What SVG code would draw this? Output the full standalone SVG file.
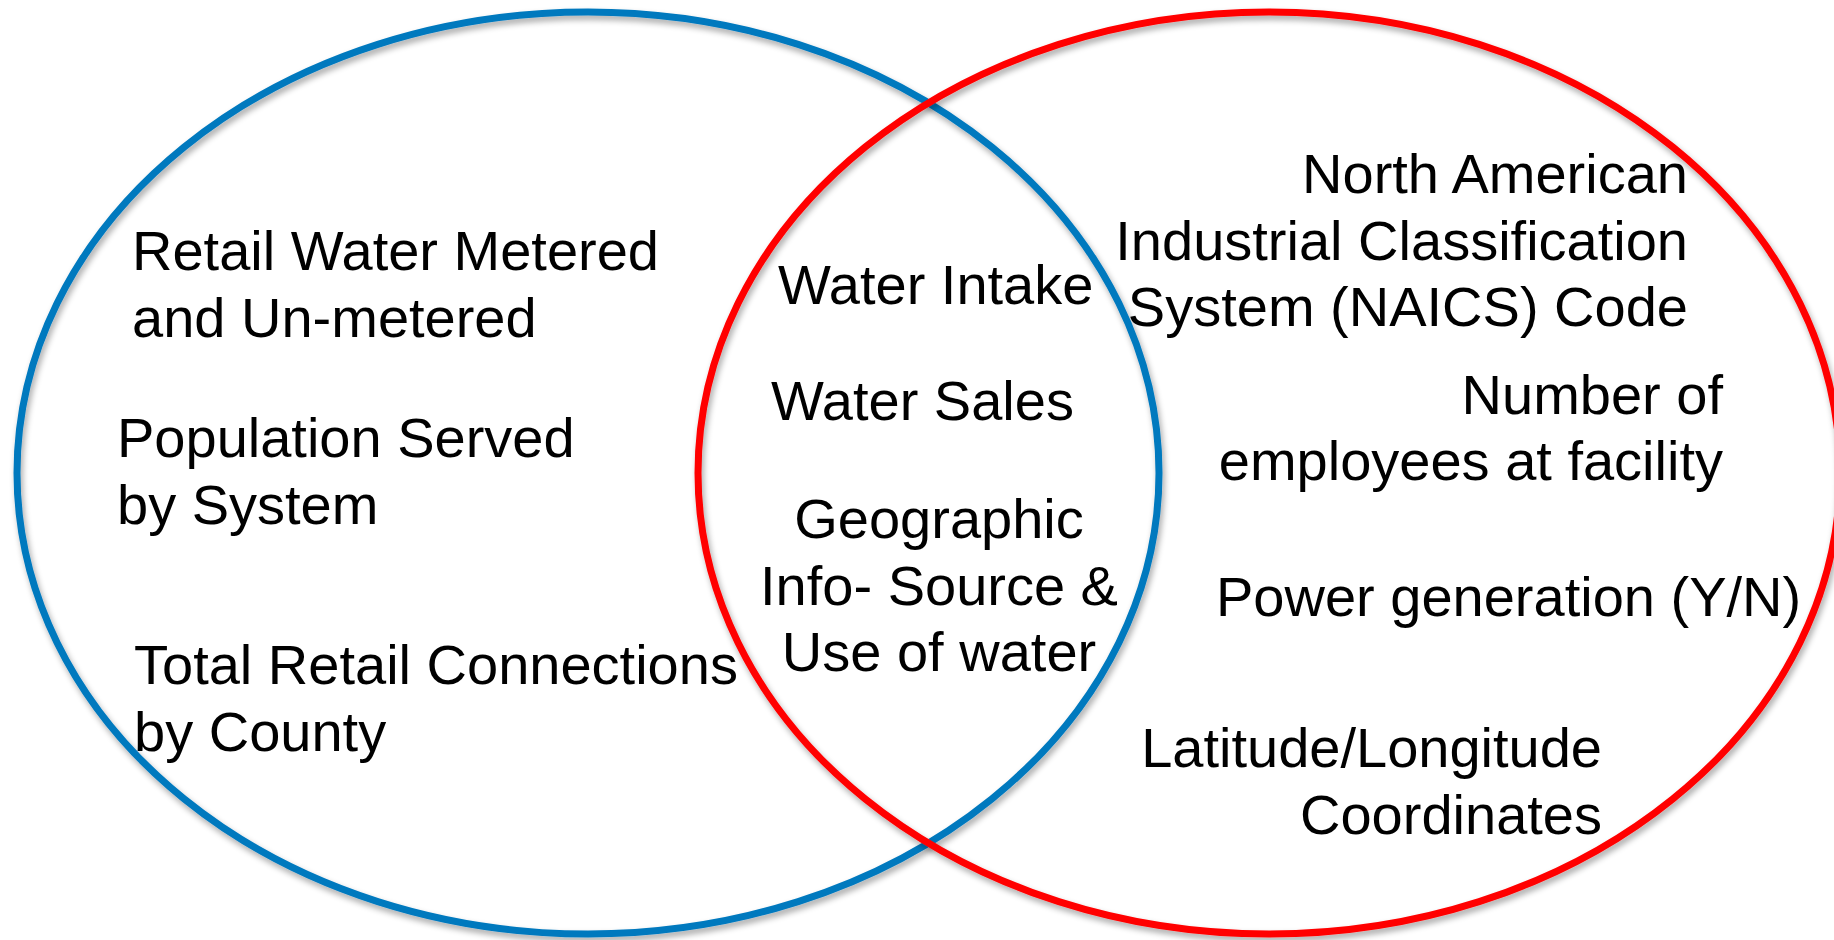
<svg xmlns="http://www.w3.org/2000/svg" width="1834" height="940" viewBox="0 0 1834 940">
<defs>
<filter id="sh" x="-5%" y="-5%" width="110%" height="112%">
<feGaussianBlur in="SourceAlpha" stdDeviation="3"/>
<feOffset dx="2" dy="4" result="b"/>
<feComponentTransfer><feFuncA type="linear" slope="0.35"/></feComponentTransfer>
<feMerge><feMergeNode/><feMergeNode in="SourceGraphic"/></feMerge>
</filter>
<style>
.t{font-family:"Liberation Sans",Arial,sans-serif;font-size:56px;fill:#000}
.e{fill:none;stroke-width:7}
</style>
</defs>
<rect width="1834" height="940" fill="#fff"/>
<g id="set-left">
<ellipse class="e" cx="588" cy="473" rx="571" ry="461" stroke="#0079BE" filter="url(#sh)"/>
</g>
<g id="set-right">
<ellipse class="e" cx="1269" cy="473" rx="571" ry="461" stroke="#FF0000" filter="url(#sh)"/>
</g>
<g id="left-items">
<text class="t" x="132" y="270">Retail Water Metered</text>
<text class="t" x="132" y="337">and Un-metered</text>
<text class="t" x="117" y="457">Population Served</text>
<text class="t" x="117" y="524">by System</text>
<text class="t" x="134" y="684">Total Retail Connections</text>
<text class="t" x="134" y="751">by County</text>
</g>
<g id="center-items">
<text class="t" x="778" y="304">Water Intake</text>
<text class="t" x="771" y="420">Water Sales</text>
<text class="t" x="939" y="538" text-anchor="middle">Geographic</text>
<text class="t" x="939" y="605" text-anchor="middle">Info- Source &amp;</text>
<text class="t" x="939" y="671" text-anchor="middle">Use of water</text>
</g>
<g id="right-items">
<text class="t" x="1688" y="193" text-anchor="end">North American</text>
<text class="t" x="1688" y="260" text-anchor="end">Industrial Classification</text>
<text class="t" x="1688" y="326" text-anchor="end">System (NAICS) Code</text>
<text class="t" x="1723" y="414" text-anchor="end">Number of</text>
<text class="t" x="1723" y="480" text-anchor="end">employees at facility</text>
<text class="t" x="1216" y="616">Power generation (Y/N)</text>
<text class="t" x="1602" y="767" text-anchor="end">Latitude/Longitude</text>
<text class="t" x="1602" y="834" text-anchor="end">Coordinates</text>
</g>
</svg>
